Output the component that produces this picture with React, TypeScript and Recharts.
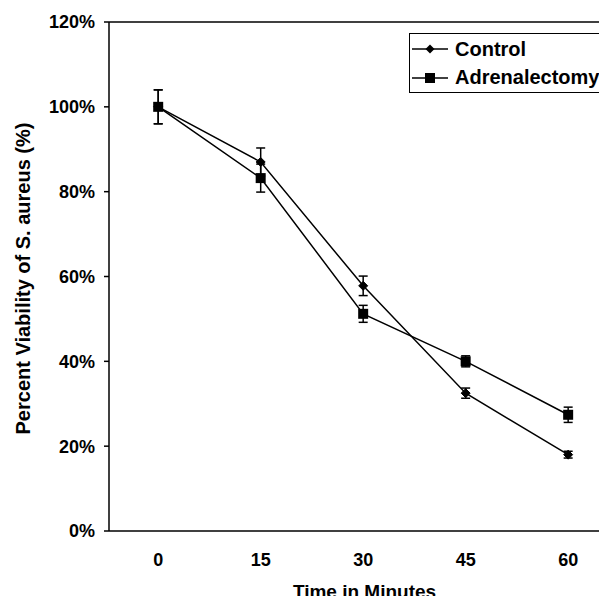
import React from 'react';
import { LineChart, Line, XAxis, YAxis, ErrorBar, ReferenceLine, Legend } from 'recharts';

const times = [0, 15, 30, 45, 60];
const controlValues = [100, 87, 57.8, 32.5, 18];
const controlErrors = [4, 3.3, 2.3, 1.2, 0.8];
const adrenalValues = [100, 83.2, 51.2, 40, 27.4];
const adrenalErrors = [4, 3.3, 2, 1.3, 1.8];
const yTicks = [0, 20, 40, 60, 80, 100, 120];
const seriesNames = ['Control', 'Adrenalectomy'];
const xLabel = 'Time in Minutes';
const yLabel = 'Percent Viability of S. aureus (%)';

const data = times.map((t, i) => ({
  time: t,
  control: controlValues[i],
  controlErr: controlErrors[i],
  adrenal: adrenalValues[i],
  adrenalErr: adrenalErrors[i],
}));

const FONT = 'Arial, "Liberation Sans", Helvetica, sans-serif';

const Diamond = (props: any) => {
  const { cx, cy } = props;
  if (cx == null || cy == null) return null;
  const r = 4.5;
  return (
    <polygon
      points={`${cx},${cy - r} ${cx + r},${cy} ${cx},${cy + r} ${cx - r},${cy}`}
      fill="#000"
      stroke="#000"
    />
  );
};

const Square = (props: any) => {
  const { cx, cy } = props;
  if (cx == null || cy == null) return null;
  const s = 5;
  return <rect x={cx - s} y={cy - s} width={2 * s} height={2 * s} fill="#000" />;
};

const LegendContent = () => (
  <div
    style={{
      border: '1.5px solid #000',
      background: '#fff',
      width: 196,
      height: 60,
      boxSizing: 'border-box',
      fontFamily: FONT,
      fontWeight: 'bold',
      fontSize: 20,
      color: '#000',
      paddingTop: 1,
    }}
  >
    {seriesNames.map((name, i) => (
      <div key={name} style={{ display: 'flex', alignItems: 'center', height: 28.5 }}>
        <svg width={45} height={14} style={{ display: 'block', flex: 'none' }}>
          <line x1={2} y1={7} x2={38} y2={7} stroke="#000" strokeWidth={1.5} />
          {i === 0 ? (
            <polygon points="20,2.5 24.5,7 20,11.5 15.5,7" fill="#000" />
          ) : (
            <rect x={15} y={2} width={10} height={10} fill="#000" />
          )}
        </svg>
        <span style={{ whiteSpace: 'nowrap' }}>{name}</span>
      </div>
    ))}
  </div>
);

export default function App() {
  return (
    <div style={{ width: 599, height: 596, marginBottom: -8, overflow: 'hidden', background: '#fff' }}>
      <LineChart
        width={640}
        height={596}
        data={data}
        margin={{ top: 14, right: 28.6, bottom: 43, left: 21 }}
      >
        <XAxis
          dataKey="time"
          type="number"
          domain={[-7.2, 67.5]}
          ticks={times}
          allowDataOverflow
          tickLine={false}
          tickSize={0}
          tickMargin={22}
          height={30}
          axisLine={{ stroke: '#000', strokeWidth: 1.5 }}
          tick={{ fill: '#000', fontSize: 18, fontWeight: 'bold', fontFamily: FONT }}
          label={() => (
            <text
              x={356.5}
              y={590}
              textAnchor="middle"
              fill="#000"
              fontSize={19}
              fontWeight="bold"
              fontFamily={FONT}
            >
              {xLabel}
            </text>
          )}
        />
        <YAxis
          type="number"
          domain={[0, 120]}
          ticks={yTicks}
          width={80}
          tickSize={5}
          tickMargin={9}
          tickFormatter={(v: number) => `${v}%`}
          axisLine={{ stroke: '#000', strokeWidth: 1.5 }}
          tickLine={{ stroke: '#000', strokeWidth: 1.5 }}
          tick={{ fill: '#000', fontSize: 18, fontWeight: 'bold', fontFamily: FONT }}
          label={() => (
            <text
              x={22}
              y={270.5}
              transform="rotate(-90 22 270.5)"
              textAnchor="middle"
              fill="#000"
              fontSize={20}
              fontWeight="bold"
              fontFamily={FONT}
            >
              {yLabel}
            </text>
          )}
        />
        <ReferenceLine y={120} stroke="#000" strokeWidth={1.5} ifOverflow="extendDomain" />
        <ReferenceLine x={67.5} stroke="#000" strokeWidth={1.5} />
        <Legend
          layout="vertical"
          align="center"
          verticalAlign="middle"
          content={<LegendContent />}
          wrapperStyle={{ left: 401, top: 25, width: 196, height: 60 }}
        />
        <Line
          name={seriesNames[1]}
          dataKey="adrenal"
          stroke="#000"
          strokeWidth={1.5}
          dot={<Square />}
          isAnimationActive={false}
        >
          <ErrorBar dataKey="adrenalErr" width={4.5} stroke="#000" strokeWidth={1.5} direction="y" />
        </Line>
        <Line
          name={seriesNames[0]}
          dataKey="control"
          stroke="#000"
          strokeWidth={1.5}
          dot={<Diamond />}
          isAnimationActive={false}
        >
          <ErrorBar dataKey="controlErr" width={4.5} stroke="#000" strokeWidth={1.5} direction="y" />
        </Line>
      </LineChart>
    </div>
  );
}
